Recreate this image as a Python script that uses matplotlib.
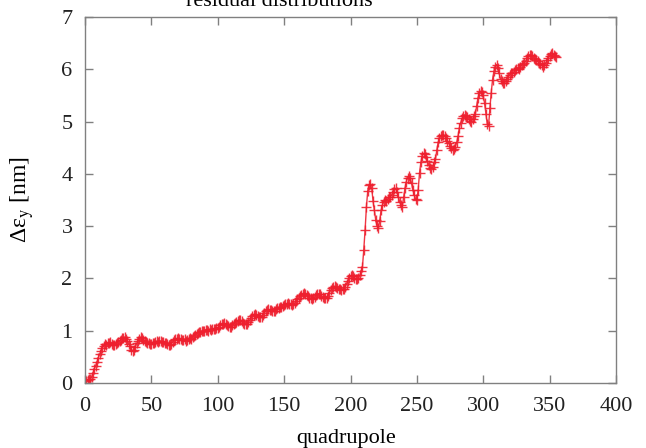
import numpy as np
import matplotlib
matplotlib.use("Agg")
import matplotlib.pyplot as plt

plt.rcParams["font.family"] = ["Liberation Serif", "DejaVu Serif"]
plt.rcParams["mathtext.fontset"] = "stix"

# residual emittance growth along the line, one value per quadrupole
quad = list(range(356))
deps_y = [
    0.05, 0.04, 0.06, 0.07, 0.08, 0.12, 0.19, 0.27, 0.33, 0.40,
    0.48, 0.55, 0.61, 0.67, 0.71, 0.74, 0.73, 0.77, 0.76, 0.78,
    0.75, 0.73, 0.72, 0.74, 0.77, 0.79, 0.81, 0.83, 0.86, 0.87,
    0.88, 0.85, 0.80, 0.75, 0.70, 0.64, 0.61, 0.63, 0.69, 0.76,
    0.81, 0.85, 0.88, 0.87, 0.83, 0.80, 0.78, 0.76, 0.77, 0.75,
    0.75, 0.77, 0.76, 0.78, 0.80, 0.79, 0.81, 0.80, 0.78, 0.79,
    0.77, 0.76, 0.74, 0.73, 0.72, 0.75, 0.79, 0.82, 0.84, 0.85,
    0.86, 0.84, 0.85, 0.83, 0.82, 0.84, 0.81, 0.82, 0.84, 0.86,
    0.85, 0.88, 0.90, 0.91, 0.94, 0.96, 0.97, 0.98, 0.99, 1.00,
    1.00, 1.02, 1.01, 1.00, 1.03, 1.02, 1.04, 1.03, 1.03, 1.05,
    1.06, 1.08, 1.10, 1.12, 1.13, 1.14, 1.12, 1.10, 1.09, 1.08,
    1.08, 1.10, 1.13, 1.15, 1.17, 1.19, 1.21, 1.20, 1.18, 1.15,
    1.13, 1.12, 1.12, 1.16, 1.20, 1.25, 1.28, 1.31, 1.32, 1.30,
    1.29, 1.27, 1.26, 1.26, 1.30, 1.34, 1.37, 1.40, 1.41, 1.39,
    1.40, 1.38, 1.37, 1.38, 1.41, 1.43, 1.44, 1.46, 1.45, 1.47,
    1.49, 1.51, 1.52, 1.53, 1.51, 1.52, 1.50, 1.52, 1.53, 1.56,
    1.60, 1.63, 1.66, 1.68, 1.70, 1.72, 1.71, 1.69, 1.66, 1.63,
    1.62, 1.61, 1.62, 1.65, 1.68, 1.70, 1.71, 1.70, 1.67, 1.64,
    1.62, 1.62, 1.63, 1.67, 1.72, 1.77, 1.81, 1.84, 1.85, 1.84,
    1.82, 1.80, 1.79, 1.78, 1.79, 1.80, 1.84, 1.90, 1.96, 2.01,
    2.05, 2.06, 2.04, 2.01, 1.99, 1.98, 2.00, 2.06, 2.14, 2.22,
    2.55, 2.93, 3.37, 3.68, 3.78, 3.80, 3.72, 3.48, 3.30, 3.12,
    3.00, 2.96, 3.10, 3.30, 3.40, 3.46, 3.50, 3.48, 3.52, 3.55,
    3.56, 3.60, 3.66, 3.71, 3.72, 3.66, 3.56, 3.47, 3.40, 3.37,
    3.55, 3.72, 3.85, 3.93, 3.96, 3.92, 3.82, 3.69, 3.60, 3.52,
    3.50, 3.70, 4.02, 4.22, 4.35, 4.39, 4.38, 4.33, 4.25, 4.17,
    4.12, 4.10, 4.14, 4.22, 4.28, 4.45, 4.60, 4.68, 4.72, 4.74,
    4.75, 4.73, 4.69, 4.63, 4.59, 4.54, 4.50, 4.46, 4.47, 4.52,
    4.60, 4.72, 4.88, 4.98, 5.06, 5.10, 5.13, 5.11, 5.08, 5.05,
    5.02, 5.00, 5.05, 5.10, 5.14, 5.30, 5.45, 5.55, 5.58, 5.56,
    5.50, 5.35, 5.15, 4.96, 4.92, 5.25, 5.55, 5.80, 5.96, 6.05,
    6.09, 6.03, 5.92, 5.82, 5.77, 5.74, 5.74, 5.78, 5.82, 5.86,
    5.90, 5.93, 5.92, 5.95, 5.98, 6.00, 6.02, 6.01, 6.04, 6.08,
    6.10, 6.12, 6.16, 6.21, 6.26, 6.28, 6.27, 6.25, 6.22, 6.20,
    6.18, 6.15, 6.12, 6.10, 6.08, 6.05, 6.08, 6.12, 6.17, 6.21,
    6.26, 6.30, 6.31, 6.28, 6.26, 6.24,
]

fig = plt.figure(figsize=(6.46, 4.48), dpi=100)
ax = fig.add_axes([85 / 646, 1 - 383 / 448, (616 - 85) / 646, (383 - 17) / 448])

ax.plot(quad, deps_y, color="#ee1f2e", lw=1.0, marker="+", ms=7.5, mew=1.0, alpha=0.9)

ax.set_xlim(0, 400)
ax.set_ylim(0, 7)
ax.set_xticks(np.arange(0, 401, 50))
ax.set_yticks(np.arange(0, 8, 1))

for s in ax.spines.values():
    s.set_color("#808080")
    s.set_linewidth(1.0)
ax.tick_params(direction="in", length=6, width=1, color="#808080",
               top=True, right=True, labelsize=16, labelcolor="#222222")
ax.tick_params(axis="x", pad=10)
ax.tick_params(axis="y", pad=9)

ax.set_ylabel("Δε$_\\mathrm{y}$ [nm]", fontsize=17, labelpad=18)
fig.text(346 / 646, 1 - 443 / 448, "quadrupole", fontsize=16, ha="center", va="baseline")
fig.text(279 / 646, 1 - 6 / 448, "residual distributions", fontsize=16, ha="center", va="baseline")

plt.savefig("out.png", dpi=100)
